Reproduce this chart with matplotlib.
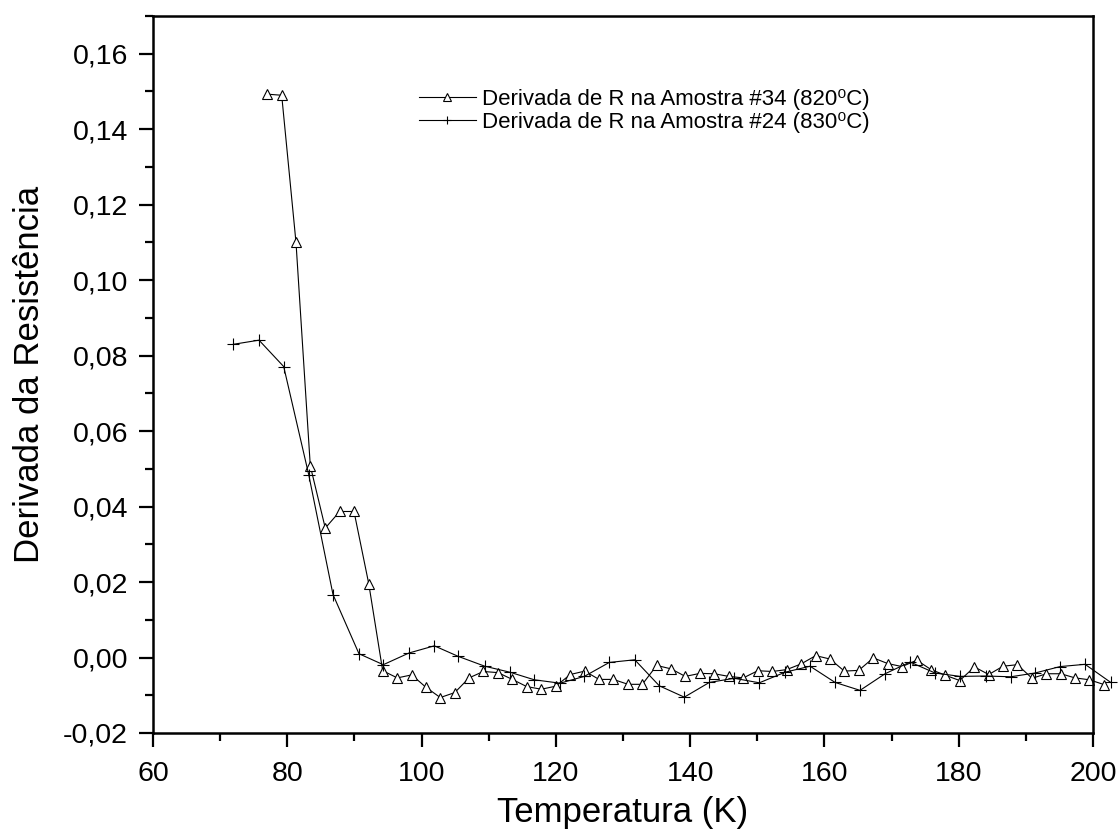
import matplotlib
matplotlib.use("Agg")
import matplotlib.pyplot as plt
from matplotlib.ticker import MultipleLocator, FuncFormatter

plt.rcParams['font.family'] = ['Liberation Sans', 'DejaVu Sans']

# amostra #34 (820 C)
t34 = [76.93, 79.17, 81.30, 83.43, 85.66, 87.81, 89.94, 92.13, 94.21, 96.39,
       98.53, 100.66, 102.79, 104.94, 107.07, 109.20, 111.38, 113.52, 115.66, 117.83,
       119.98, 122.15, 124.30, 126.43, 128.56, 130.75, 132.88, 135.02, 137.15, 139.28,
       141.47, 143.60, 145.75, 147.92, 150.07, 152.24, 154.38, 156.52, 158.70, 160.83,
       162.96, 165.11, 167.28, 169.43, 171.56, 173.75, 175.88, 178.01, 180.15, 182.33,
       184.47, 186.60, 188.73, 190.92, 193.05, 195.20, 197.32, 199.46, 201.69]
d34 = [0.1493, 0.1490, 0.1100, 0.0508, 0.0343, 0.0387, 0.0387, 0.0196, -0.0035, -0.0054,
       -0.0046, -0.0079, -0.0106, -0.0093, -0.0054, -0.0037, -0.0040, -0.0058, -0.0077, -0.0084,
       -0.0076, -0.0045, -0.0036, -0.0058, -0.0058, -0.0071, -0.0071, -0.0021, -0.0030, -0.0050,
       -0.0042, -0.0043, -0.0050, -0.0054, -0.0035, -0.0037, -0.0032, -0.0017, 0.0005, -0.0004,
       -0.0036, -0.0034, -0.0001, -0.0016, -0.0024, -0.0007, -0.0032, -0.0047, -0.0061, -0.0025,
       -0.0045, -0.0023, -0.0019, -0.0055, -0.0043, -0.0043, -0.0054, -0.0059, -0.0072]

# amostra #24 (830 C)
t24 = [71.96, 75.79, 79.47, 83.19, 86.81, 90.68, 94.30, 98.13, 101.90, 105.47,
       109.41, 113.17, 116.79, 120.62, 124.24, 127.96, 131.75, 135.41, 139.13, 142.86,
       146.58, 150.30, 154.13, 157.86, 161.58, 165.30, 169.03, 172.75, 176.47, 180.20,
       184.03, 187.75, 191.37, 195.09, 198.81, 202.64]
d24 = [0.0830, 0.0841, 0.0771, 0.0485, 0.0167, 0.0010, -0.0019, 0.0012, 0.0031, 0.0003,
       -0.0023, -0.0039, -0.0059, -0.0068, -0.0050, -0.0013, -0.0006, -0.0075, -0.0105, -0.0066,
       -0.0055, -0.0067, -0.0039, -0.0023, -0.0066, -0.0087, -0.0043, -0.0012, -0.0041, -0.0050,
       -0.0049, -0.0051, -0.0041, -0.0024, -0.0018, -0.0066]

fig = plt.figure(figsize=(11.19, 8.38), dpi=100)
ax = fig.add_axes([0.1367, 0.1253, 0.9768 - 0.1367, 0.9809 - 0.1253])

ax.plot(t34, d34, color='black', lw=0.8, marker='^', ms=7, mfc='white', mec='black',
        mew=0.8, clip_on=False, label='Derivada de R na Amostra #34 (820\u2070C)')
ax.plot(t24, d24, color='black', lw=0.8, marker='+', ms=8, mew=0.8,
        clip_on=False, label='Derivada de R na Amostra #24 (830\u2070C)')

ax.set_xlim(60, 200)
ax.set_ylim(-0.02, 0.17)
ax.xaxis.set_major_locator(MultipleLocator(20))
ax.xaxis.set_minor_locator(MultipleLocator(10))
ax.yaxis.set_major_locator(MultipleLocator(0.02))
ax.yaxis.set_minor_locator(MultipleLocator(0.01))
ax.yaxis.set_major_formatter(FuncFormatter(lambda v, p: f'{v:.2f}'.replace('.', ',')))

for s in ax.spines.values():
    s.set_linewidth(1.8)
ax.tick_params(which='major', direction='out', length=10, width=1.6, labelsize=20.5)
ax.tick_params(axis='x', which='major', pad=10)
ax.tick_params(axis='y', which='major', pad=8)
ax.tick_params(which='minor', direction='out', length=5.5, width=1.6)

ax.set_xlabel('Temperatura (K)', fontsize=25, labelpad=7)
ax.set_ylabel('Derivada da Resistência', fontsize=25, labelpad=12)

ax.legend(loc='upper left', bbox_to_anchor=(0.374, 0.894), bbox_transform=fig.transFigure,
          frameon=False, fontsize=16, handlelength=2.6, handletextpad=0.25,
          labelspacing=0.1, borderaxespad=0, borderpad=0, markerscale=0.75)

fig.savefig('out.png', dpi=100)
